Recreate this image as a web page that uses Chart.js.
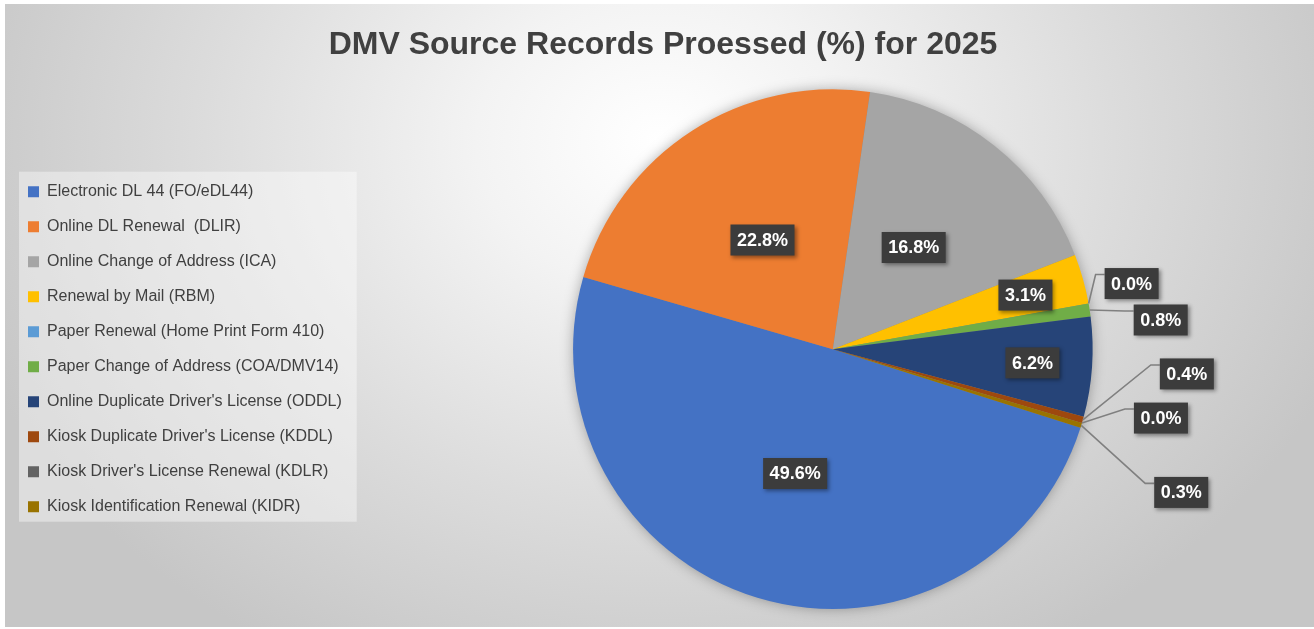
<!DOCTYPE html>
<html lang="en">

<head>
    <meta charset="UTF-8">
    <title>DMV Source Records Proessed (%) for 2025</title>
    <script src="https://cdn.jsdelivr.net/npm/chart.js"></script>
    <style>
        html, body { margin: 0; padding: 0; background: #ffffff; }
        .moldura {
            position: absolute; left: 5px; top: 4px; width: 1309px; height: 623px;
            background: radial-gradient(ellipse 56% 95% at 50% 22%, #ffffff 0%, #f3f3f3 25%, #dcdcdc 62%, #c6c6c6 100%);
        }
        canvas { display: block; }
    </style>
</head>

<body>
    <div class="moldura">
        <canvas id="graficoDmv" width="1309" height="623"></canvas>
    </div>
</body>

</html>

<script>
    var titulo = 'DMV Source Records Proessed (%) for 2025'
    var categorias = [
        'Electronic DL 44 (FO/eDL44)',
        'Online DL Renewal  (DLIR)',
        'Online Change of Address (ICA)',
        'Renewal by Mail (RBM)',
        'Paper Renewal (Home Print Form 410)',
        'Paper Change of Address (COA/DMV14)',
        "Online Duplicate Driver's License (ODDL)",
        "Kiosk Duplicate Driver's License (KDDL)",
        "Kiosk Driver's License Renewal (KDLR)",
        'Kiosk Identification Renewal (KIDR)'
    ]
    var percentuais = [49.6, 22.8, 16.8, 3.1, 0.0, 0.8, 6.2, 0.4, 0.0, 0.3]
    var cores = ['#4472C4', '#ED7D31', '#A5A5A5', '#FFC000', '#5B9BD5', '#70AD47', '#264478', '#9E480E', '#636363', '#997300']

    // rotulos das fatias pequenas ficam fora, ligados por linha (deslocamento a partir da borda)
    var chamadas = { 4: [43, -20], 5: [71, 10], 7: [104, -46], 8: [79, -5], 9: [100, 67] }

    Chart.defaults.font.family = "'Liberation Sans', Arial, sans-serif"

    var rotulosPlugin = {
        id: 'rotulos',
        beforeDraw: function (chart) {
            // fundo claro da legenda
            var caixas = chart.legend.legendHitBoxes
            if (!caixas || !caixas.length) return
            var ctx = chart.ctx
            var primeira = caixas[0]
            var ultima = caixas[caixas.length - 1]
            var esq = primeira.left - 9
            var topo = primeira.top - 12
            var dir = chart.legend.right + 5
            var baixo = ultima.top + ultima.height + 7
            ctx.save()
            ctx.fillStyle = 'rgba(255,255,255,0.4)'
            ctx.fillRect(esq, topo, dir - esq, baixo - topo)
            ctx.restore()
        },
        beforeDatasetsDraw: function (chart) {
            // sombra suave em volta da pizza
            var arco = chart.getDatasetMeta(0).data[0]
            var ctx = chart.ctx
            ctx.save()
            ctx.shadowColor = 'rgba(0,0,0,0.35)'
            ctx.shadowBlur = 14
            ctx.fillStyle = '#888888'
            ctx.beginPath()
            ctx.arc(arco.x, arco.y, arco.outerRadius - 1, 0, Math.PI * 2)
            ctx.fill()
            ctx.restore()
        },
        afterDatasetsDraw: function (chart) {
            var ctx = chart.ctx
            var arcos = chart.getDatasetMeta(0).data
            var rotulos = []
            ctx.save()
            ctx.font = "bold 18px 'Liberation Sans', Arial, sans-serif"
            arcos.forEach(function (arco, i) {
                var p = arco.getProps(['x', 'y', 'startAngle', 'endAngle', 'outerRadius'], true)
                var meio = (p.startAngle + p.endAngle) / 2
                var texto = percentuais[i].toFixed(1) + '%'
                var w = ctx.measureText(texto).width + 13
                var h = 31
                var cx, cy
                if (chamadas[i]) {
                    var ax = p.x + Math.cos(meio) * p.outerRadius
                    var ay = p.y + Math.sin(meio) * p.outerRadius
                    cx = ax + chamadas[i][0]
                    cy = ay + chamadas[i][1]
                    var bx = cx - w / 2
                    var ly = cy - 9
                    ctx.strokeStyle = '#808080'
                    ctx.lineWidth = 1.6
                    ctx.beginPath()
                    ctx.moveTo(ax, ay)
                    ctx.lineTo(bx - 9, ly)
                    ctx.lineTo(bx, ly)
                    ctx.stroke()
                } else {
                    var f = percentuais[i] >= 10 ? 0.5 : 0.77
                    cx = p.x + Math.cos(meio) * p.outerRadius * f
                    cy = p.y + Math.sin(meio) * p.outerRadius * f
                }
                rotulos.push({ texto: texto, cx: cx, cy: cy, w: w, h: h })
            })
            rotulos.forEach(function (r) {
                ctx.save()
                ctx.shadowColor = 'rgba(0,0,0,0.4)'
                ctx.shadowBlur = 4
                ctx.shadowOffsetX = 2
                ctx.shadowOffsetY = 2
                ctx.fillStyle = '#3c3c3c'
                ctx.fillRect(r.cx - r.w / 2, r.cy - r.h / 2, r.w, r.h)
                ctx.restore()
                ctx.fillStyle = '#ffffff'
                ctx.textAlign = 'center'
                ctx.textBaseline = 'middle'
                ctx.fillText(r.texto, r.cx, r.cy + 1)
            })
            ctx.restore()
        }
    }

    const graficoDmv = new Chart(document.getElementById('graficoDmv'), {
        type: 'pie',
        data: {
            labels: categorias,
            datasets: [{
                data: percentuais,
                backgroundColor: cores,
                borderWidth: 0,
                hoverOffset: 0
            }]
        },
        options: {
            responsive: false,
            animation: false,
            events: [],
            rotation: 107.6,
            layout: { padding: { left: 4, right: -3, top: 0, bottom: 18 } },
            plugins: {
                title: {
                    display: true,
                    text: titulo,
                    color: '#404040',
                    font: { size: 32, weight: 'bold' },
                    padding: { top: 22, bottom: 25 }
                },
                legend: {
                    position: 'left',
                    align: 'center',
                    fullSize: false,
                    labels: {
                        boxWidth: 11,
                        boxHeight: 11,
                        padding: 19,
                        color: '#404040',
                        font: { size: 16 }
                    }
                },
                tooltip: { enabled: false }
            }
        },
        plugins: [rotulosPlugin]
    });
</script>
